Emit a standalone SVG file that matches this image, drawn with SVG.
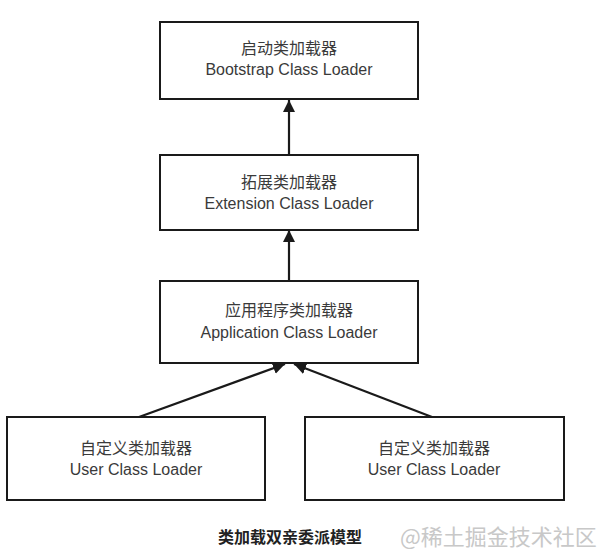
<svg xmlns="http://www.w3.org/2000/svg" width="609" height="553" viewBox="0 0 609 553">
<style>
.box{fill:#fff;stroke:#1a1a1a;stroke-width:2}
.t{font-family:"Liberation Sans","Noto Sans CJK SC",sans-serif;font-size:16px;fill:#3a3a3a;text-anchor:middle}
.c{stroke:#1a1a1a;stroke-width:2.2;fill:none;marker-end:url(#ah)}
.cap{font-family:"Noto Sans CJK SC",sans-serif;font-size:16px;font-weight:bold;fill:#222;text-anchor:middle}
.wm{font-family:"Noto Sans CJK SC",sans-serif;font-size:22px;fill:#c8c8c8;text-anchor:start}
</style>
<defs>
<marker id="ah" viewBox="0 0 10 10" refX="10" refY="5" markerWidth="5.5" markerHeight="5.5" markerUnits="strokeWidth" orient="auto">
<path d="M0,0 L10,5 L0,10 z" fill="#1a1a1a"/>
</marker>
</defs>
<rect width="609" height="553" fill="#fff"/>
<g id="connectors">
<line class="c" x1="289" y1="155" x2="289" y2="100"/>
<line class="c" x1="289" y1="281" x2="289" y2="230"/>
<line class="c" x1="139" y1="417" x2="285" y2="364"/>
<line class="c" x1="432" y1="417" x2="294" y2="364"/>
</g>
<g id="bootstrap">
<rect class="box" x="160" y="22" width="258" height="77"/>
<text class="t" x="289" y="54">启动类加载器</text>
<text class="t" x="289" y="75">Bootstrap Class Loader</text>
</g>
<g id="extension">
<rect class="box" x="160" y="155" width="258" height="75"/>
<text class="t" x="289" y="188">拓展类加载器</text>
<text class="t" x="289" y="209">Extension Class Loader</text>
</g>
<g id="application">
<rect class="box" x="160" y="281" width="258" height="82"/>
<text class="t" x="289" y="316">应用程序类加载器</text>
<text class="t" x="289" y="338">Application Class Loader</text>
</g>
<g id="user1">
<rect class="box" x="7" y="417" width="258" height="83"/>
<text class="t" x="136" y="454">自定义类加载器</text>
<text class="t" x="136" y="475">User Class Loader</text>
</g>
<g id="user2">
<rect class="box" x="305" y="417" width="259" height="83"/>
<text class="t" x="434" y="454">自定义类加载器</text>
<text class="t" x="434" y="475">User Class Loader</text>
</g>
<text class="cap" x="290" y="543">类加载双亲委派模型</text>
<text class="wm" x="400" y="545">@稀土掘金技术社区</text>
</svg>
